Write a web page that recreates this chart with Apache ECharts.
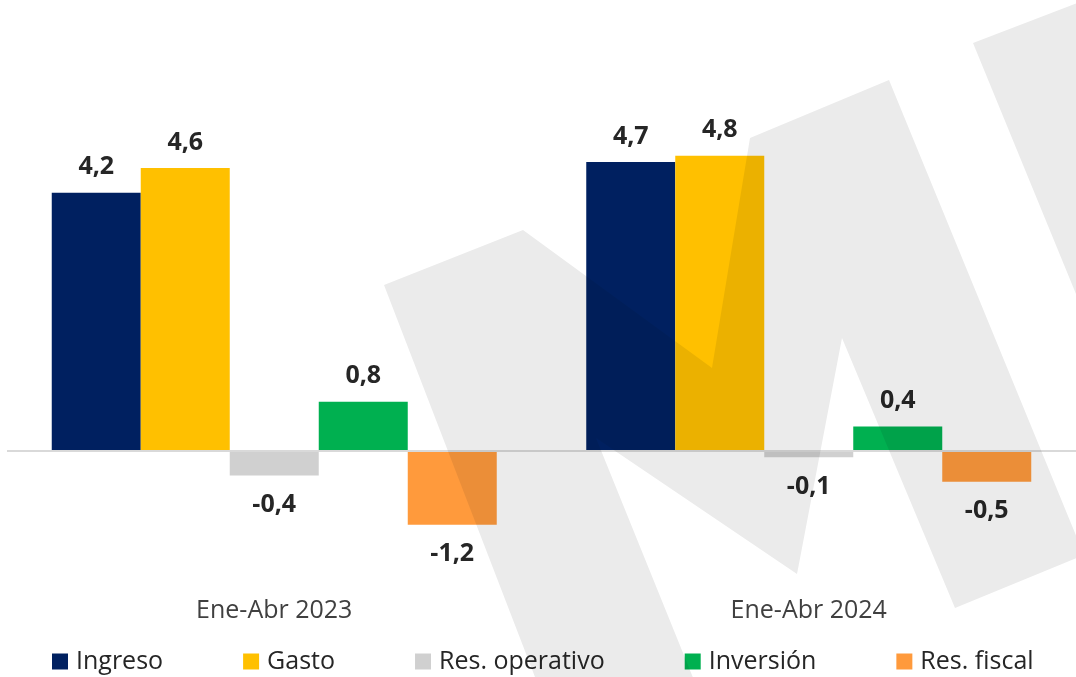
<!DOCTYPE html>
<html lang="es">
    <head>
        <title>Ingreso y gasto</title>
        <meta charset="utf-8">
        <script src="https://cdn.jsdelivr.net/npm/echarts@6/dist/echarts.min.js"></script>
    </head>

    <style>
        html, body, #main {
            width: 100%;
            height: 100%;
            margin: 0;
            background: #ffffff;
        }
    </style>

    <body>
        <div id="main"></div>

        <script>
            const periods = ['Ene-Abr 2023', 'Ene-Abr 2024'];
            const seriesNames = ['Ingreso', 'Gasto', 'Res. operativo', 'Inversión', 'Res. fiscal'];
            const ingreso = [4.2, 4.7];
            const gasto = [4.6, 4.8];
            const resOperativo = [-0.4, -0.1];
            const inversion = [0.8, 0.4];
            const resFiscal = [-1.2, -0.5];
            const colors = ['#002060', '#ffc000', '#d0d0d0', '#00b050', '#ff9a3c'];

            const font = '"Open Sans", sans-serif';

            // negative bars get their label underneath
            const toItems = (values) => values.map(v => ({
                value: v,
                label: v < 0 ? { position: 'bottom', distance: 17 } : { position: 'top', distance: 13 }
            }));

            const makeSeries = (name, values, i) => ({
                name: name,
                type: 'bar',
                barWidth: 89,
                barGap: '0%',
                itemStyle: { color: colors[i] },
                label: {
                    show: true,
                    fontFamily: font,
                    fontWeight: 'bold',
                    fontSize: 25,
                    color: '#262626',
                    formatter: p => p.value.toFixed(1).replace('.', ',')
                },
                data: toItems(values)
            });

            const allValues = [ingreso, gasto, resOperativo, inversion, resFiscal];
            const series = seriesNames.map((n, i) => makeSeries(n, allValues[i], i));

            // zero line
            series[0].markLine = {
                silent: true,
                symbol: 'none',
                label: { show: false },
                lineStyle: { color: '#d9d9d9', width: 2, type: 'solid' },
                data: [ { yAxis: 0 } ]
            };

            // background logo (multiplied over the bars)
            const wm = { fill: '#ebebeb', blend: 'multiply' };
            const graphic = [
                {
                    type: 'polygon', z: 100, silent: true,
                    shape: { points: [
                        [384, 285], [523, 230], [712, 368], [750, 138], [889, 80],
                        [1084, 555], [955, 608], [842, 338], [797, 574], [596, 438],
                        [698, 690], [540, 690]
                    ] },
                    style: wm
                },
                {
                    type: 'polygon', z: 100, silent: true,
                    shape: { points: [ [973, 43], [1090, -2], [1090, 328] ] },
                    style: wm
                }
            ];

            const chart = echarts.init(document.getElementById('main'));

            const option = {
                animation: false,
                grid: { left: 7, width: 1072, top: 82, height: 492 },
                legend: {
                    left: 47,
                    top: 644,
                    itemWidth: 16,
                    itemHeight: 16,
                    itemGap: 80,
                    icon: 'rect',
                    textStyle: {
                        fontFamily: font,
                        fontSize: 25,
                        color: '#262626',
                        padding: [0, 0, 0, 3]
                    },
                    data: seriesNames
                },
                xAxis: {
                    type: 'category',
                    data: periods,
                    axisLine: { show: false },
                    axisTick: { show: false },
                    axisLabel: {
                        margin: 24,
                        fontFamily: font,
                        fontSize: 25,
                        color: '#404040'
                    }
                },
                yAxis: {
                    type: 'value',
                    min: -2,
                    max: 6,
                    interval: 1,
                    show: false
                },
                graphic: graphic,
                series: series
            };

            chart.setOption(option);

            window.onresize = function () {
                chart.resize();
            }
        </script>
    </body>
</html>
